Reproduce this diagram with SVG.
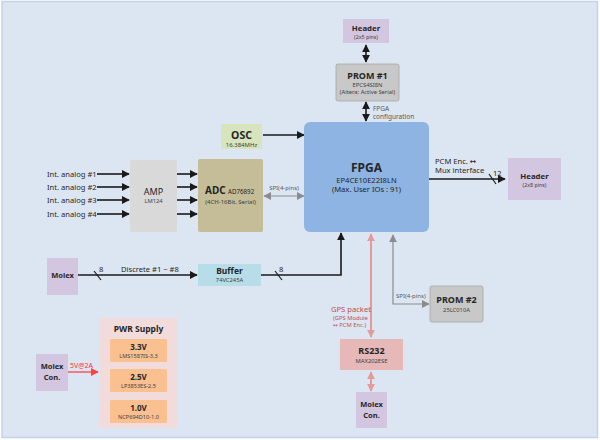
<svg xmlns="http://www.w3.org/2000/svg" width="600" height="440" viewBox="0 0 600 440">
<style>
text{font-family:"Noto Sans","Open Sans","DejaVu Sans",sans-serif;fill:#262626}
.t{font-weight:bold;text-anchor:middle}
.s{text-anchor:middle;fill:#404040}
.l{font-size:7.6px;fill:#262626}
.lg{font-size:6.5px;fill:#595959}
.k{stroke:#1a1a1a;stroke-width:1.6;fill:none}
.g{stroke:#8c8c8c;stroke-width:1.2;fill:none}
.p{stroke:#e39a98;stroke-width:2;fill:none}
.r{stroke:#ff4040;stroke-width:1.3;fill:none}
.pu{fill:#d3c6e0}
.gy{fill:#c8c8c8;stroke:#a6a6a6;stroke-width:0.8}
.or{fill:#fac090}
</style>
<defs>
<marker id="ak" viewBox="0 0 10 10" refX="9" refY="5" markerWidth="5" markerHeight="5" markerUnits="strokeWidth" orient="auto-start-reverse"><path d="M0,0 L10,5 L0,10 z" fill="#1a1a1a"/></marker>
<marker id="ag" viewBox="0 0 10 10" refX="9" refY="5" markerWidth="6.5" markerHeight="6.5" markerUnits="strokeWidth" orient="auto-start-reverse"><path d="M0,0 L10,5 L0,10 z" fill="#8c8c8c"/></marker>
<marker id="ap" viewBox="0 0 10 10" refX="9" refY="5" markerWidth="4" markerHeight="4" markerUnits="strokeWidth" orient="auto-start-reverse"><path d="M0,0 L10,5 L0,10 z" fill="#e39a98"/></marker>
<marker id="ar" viewBox="0 0 10 10" refX="9" refY="5" markerWidth="6" markerHeight="6" markerUnits="strokeWidth" orient="auto-start-reverse"><path d="M0,0 L10,5 L0,10 z" fill="#ff4040"/></marker>
</defs>
<rect x="0" y="0" width="600" height="440" fill="#ffffff"/>
<rect x="2" y="1.5" width="595.5" height="436" fill="#dce6f2" stroke="#c3d3e8" stroke-width="1.5"/>

<g id="connectors">
<line class="k" x1="366" y1="45" x2="366" y2="62" marker-start="url(#ak)" marker-end="url(#ak)"/>
<line class="k" x1="366" y1="102" x2="366" y2="121" marker-start="url(#ak)" marker-end="url(#ak)"/>
<text class="lg" x="373" y="111">FPGA</text>
<text class="lg" x="373" y="119">configuration</text>
<line class="k" x1="263" y1="135" x2="304" y2="135" marker-end="url(#ak)"/>
<text class="l" x="47" y="177">Int. analog #1</text>
<text class="l" x="47" y="190">Int. analog #2</text>
<text class="l" x="47" y="203">Int. analog #3</text>
<text class="l" x="47" y="217">Int. analog #4</text>
<line class="k" x1="97" y1="174" x2="129" y2="174" marker-end="url(#ak)"/>
<line class="k" x1="97" y1="187" x2="129" y2="187" marker-end="url(#ak)"/>
<line class="k" x1="97" y1="200" x2="129" y2="200" marker-end="url(#ak)"/>
<line class="k" x1="97" y1="214" x2="129" y2="214" marker-end="url(#ak)"/>
<line class="k" x1="177" y1="174" x2="197" y2="174" marker-end="url(#ak)"/>
<line class="k" x1="177" y1="187" x2="197" y2="187" marker-end="url(#ak)"/>
<line class="k" x1="177" y1="200" x2="197" y2="200" marker-end="url(#ak)"/>
<line class="k" x1="177" y1="214" x2="197" y2="214" marker-end="url(#ak)"/>
<line class="g" x1="264" y1="196" x2="304" y2="196" marker-start="url(#ag)" marker-end="url(#ag)"/>
<text x="284" y="190" text-anchor="middle" style="font-size:6px;fill:#595959">SPI(4-pins)</text>
<line class="k" x1="78" y1="275" x2="197" y2="275" marker-end="url(#ak)"/>
<line x1="94" y1="271" x2="101" y2="280" stroke="#1a1a1a" stroke-width="1.2"/>
<text class="l" x="99" y="272">8</text>
<text class="l" x="121" y="272">Discrete #1 ~ #8</text>
<polyline class="k" points="261,275 341,275 341,233" marker-end="url(#ak)"/>
<line x1="275" y1="271" x2="282" y2="280" stroke="#1a1a1a" stroke-width="1.2"/>
<text class="l" x="279" y="272">8</text>
<line class="k" x1="429" y1="179" x2="505" y2="179" marker-end="url(#ak)"/>
<line x1="489" y1="174" x2="496" y2="184" stroke="#1a1a1a" stroke-width="1.2"/>
<text class="l" x="493" y="176">12</text>
<text class="l" x="435" y="164">PCM Enc. ↔</text>
<text class="l" x="435" y="173">Mux interface</text>
<line class="p" x1="371" y1="234" x2="371" y2="337" marker-start="url(#ap)" marker-end="url(#ap)"/>
<text x="331" y="312" style="font-size:7.6px;fill:#c0504d">GPS packet</text>
<text x="333" y="320" style="font-size:5.8px;fill:#c0504d">(GPS Module</text>
<text x="333" y="327" style="font-size:5.8px;fill:#c0504d">↔ PCM Enc.)</text>
<polyline class="g" points="393,235 393,304 429,304" marker-start="url(#ag)" marker-end="url(#ag)"/>
<text x="396" y="298" style="font-size:6px;fill:#595959">SPI(4-pins)</text>
<line class="p" x1="371" y1="372" x2="371" y2="391" marker-start="url(#ap)" marker-end="url(#ap)"/>
<line class="r" x1="68" y1="372" x2="98" y2="372" marker-end="url(#ar)"/>
<text x="70" y="368" style="font-size:7px;fill:#ff3030">5V@2A</text>
</g>

<g id="header-top">
<rect class="pu" x="343" y="19" width="46" height="24"/>
<text class="t" x="366" y="31" style="font-size:7.8px">Header</text>
<text class="s" x="366" y="39" style="font-size:5.3px">(2x5 pins)</text>
</g>
<g id="prom1">
<rect class="gy" x="336" y="64" width="63" height="37" rx="2"/>
<text class="t" x="367.5" y="79" style="font-size:9px">PROM #1</text>
<text class="s" x="367.5" y="87" style="font-size:5.8px">EPCS4SI8N</text>
<text class="s" x="367.5" y="94" style="font-size:5.8px">(Altera: Active Serial)</text>
</g>
<g id="osc">
<rect x="221" y="124" width="41" height="25" fill="#d7e4bd"/>
<text class="t" x="241.5" y="139" style="font-size:10.5px">OSC</text>
<text class="s" x="241.5" y="146.5" style="font-size:6px">16.384MHz</text>
</g>
<g id="fpga">
<rect x="304" y="122" width="125" height="110" rx="6" fill="#8db4e2"/>
<text class="t" x="366.5" y="172" style="font-size:12px">FPGA</text>
<text x="366.5" y="183" text-anchor="middle" style="font-size:7.6px">EP4CE10E22I8LN</text>
<text x="366.5" y="192" text-anchor="middle" style="font-size:7.6px">(Max. User IOs : 91)</text>
</g>
<g id="amp">
<rect x="130" y="160" width="47" height="72" rx="2" fill="#d9d9d9"/>
<text x="153.5" y="195" text-anchor="middle" style="font-size:9px">AMP</text>
<text class="s" x="153.5" y="203" style="font-size:5.8px">LM124</text>
</g>
<g id="adc">
<rect x="198" y="159" width="65" height="73" rx="2" fill="#c4bd97"/>
<text x="205" y="194" style="font-size:10px;font-weight:bold">ADC</text>
<text x="228" y="194" style="font-size:6.2px">AD76892</text>
<text class="s" x="230.5" y="204" style="font-size:6px">(4CH-16Bit, Serial)</text>
</g>
<g id="header-right">
<rect class="pu" x="508" y="158" width="53" height="42"/>
<text class="t" x="534.5" y="179" style="font-size:7.8px">Header</text>
<text class="s" x="534.5" y="187" style="font-size:5.3px">(2x8 pins)</text>
</g>
<g id="molex-left">
<rect class="pu" x="47" y="258" width="31" height="37"/>
<text class="t" x="62.5" y="278" style="font-size:7.5px">Molex</text>
</g>
<g id="buffer">
<rect x="198" y="264" width="63" height="22" fill="#b7dee8"/>
<text class="t" x="229.5" y="274" style="font-size:8.5px">Buffer</text>
<text class="s" x="229.5" y="282" style="font-size:5.8px">74VC245A</text>
</g>
<g id="prom2">
<rect class="gy" x="430" y="286" width="53" height="36" rx="2"/>
<text class="t" x="456.5" y="303" style="font-size:9px">PROM #2</text>
<text class="s" x="456.5" y="312" style="font-size:5.8px">25LC010A</text>
</g>
<g id="rs232">
<rect x="340" y="339" width="63" height="31" fill="#e6b9b8"/>
<text class="t" x="371.5" y="354" style="font-size:9px">RS232</text>
<text class="s" x="371.5" y="363" style="font-size:5.8px">MAX202ESE</text>
</g>
<g id="molex-bottom">
<rect class="pu" x="356" y="392" width="31" height="36"/>
<text class="t" x="371.5" y="407" style="font-size:7.5px">Molex</text>
<text class="t" x="371.5" y="418" style="font-size:7.5px">Con.</text>
</g>
<g id="molex-pwr">
<rect class="pu" x="36" y="354" width="32" height="37"/>
<text class="t" x="52" y="369" style="font-size:7.5px">Molex</text>
<text class="t" x="52" y="380" style="font-size:7.5px">Con.</text>
</g>
<g id="pwr-supply">
<rect x="100" y="318" width="77" height="110" fill="#f2dcdb"/>
<text class="t" x="138.5" y="332" style="font-size:8.5px">PWR Supply</text>
<rect class="or" x="110" y="339" width="57" height="23" rx="1.5"/>
<text class="t" x="138.5" y="350" style="font-size:8px">3.3V</text>
<text class="s" x="138.5" y="358" style="font-size:5.6px">LMS1587IS-3.3</text>
<rect class="or" x="110" y="369" width="57" height="23" rx="1.5"/>
<text class="t" x="138.5" y="380" style="font-size:8px">2.5V</text>
<text class="s" x="138.5" y="388" style="font-size:5.6px">LP3853ES-2.5</text>
<rect class="or" x="110" y="400" width="57" height="23" rx="1.5"/>
<text class="t" x="138.5" y="411" style="font-size:8px">1.0V</text>
<text class="s" x="138.5" y="419" style="font-size:5.6px">NCP694D10-1.0</text>
</g>
</svg>
